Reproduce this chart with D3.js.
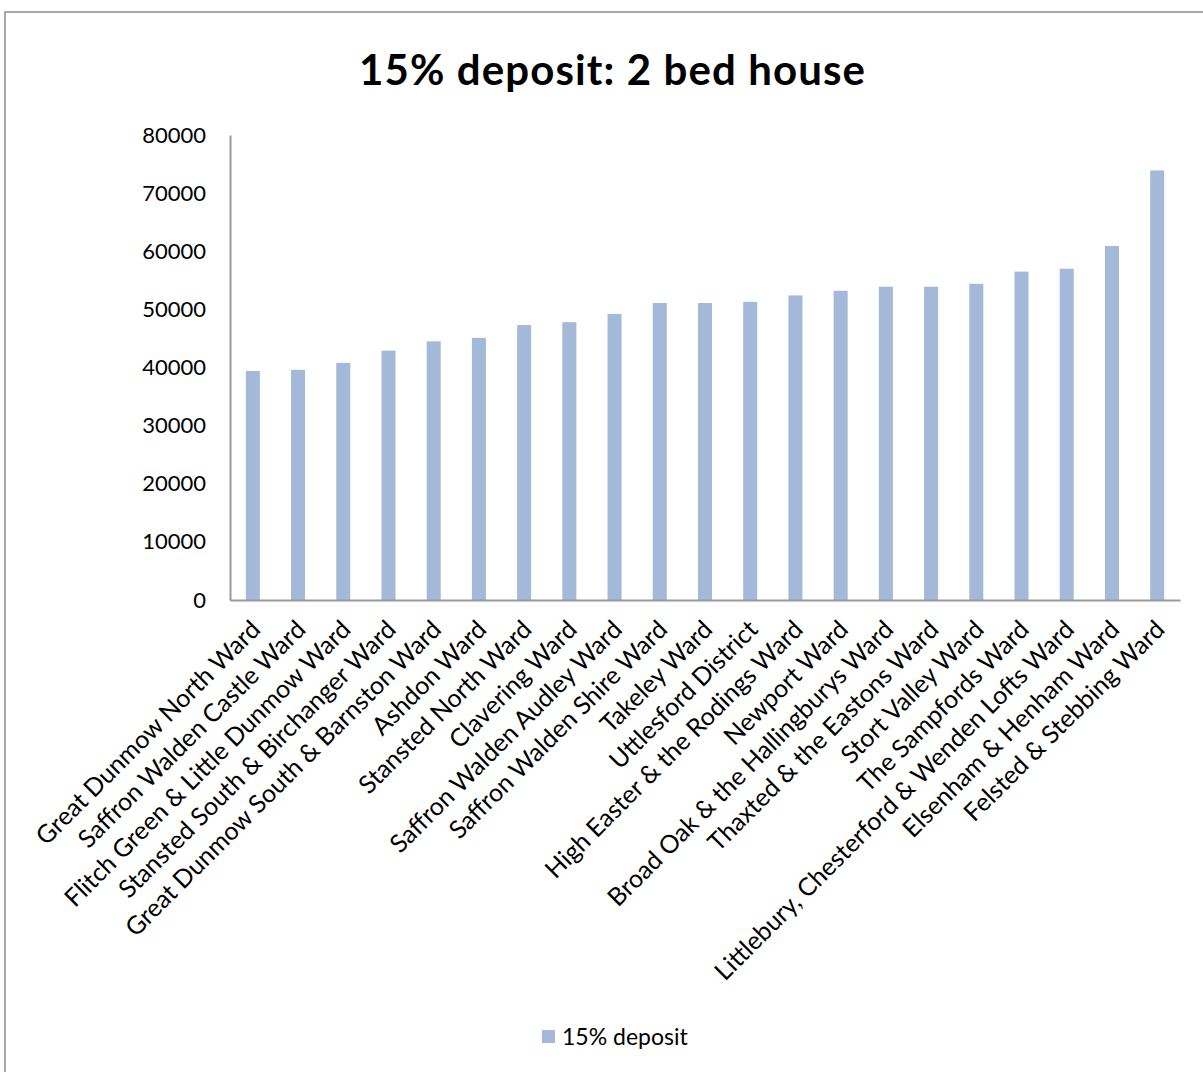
<!DOCTYPE html>
<html>
<head>
<meta charset="utf-8">
<script src="https://cdn.jsdelivr.net/npm/d3@7"></script>
<style>
  body { margin: 0; background: #fff; }
  svg { display: block; font-family: Lato, "Open Sans", sans-serif; }
</style>
</head>
<body>
<svg id="chart" width="1203" height="1072"></svg>
<script>
// data
const wards = [
  "Great Dunmow North Ward", "Saffron Walden Castle Ward", "Flitch Green & Little Dunmow Ward",
  "Stansted South & Birchanger Ward", "Great Dunmow South & Barnston Ward", "Ashdon Ward",
  "Stansted North Ward", "Clavering Ward", "Saffron Walden Audley Ward", "Saffron Walden Shire Ward",
  "Takeley Ward", "Uttlesford District", "High Easter & the Rodings Ward", "Newport Ward",
  "Broad Oak & the Hallingburys Ward", "Thaxted & the Eastons Ward", "Stort Valley Ward",
  "The Sampfords Ward", "Littlebury, Chesterford & Wenden Lofts Ward", "Elsenham & Henham Ward",
  "Felsted & Stebbing Ward"
];
const deposit15 = [
  39400, 39600, 40800, 42900, 44500, 45100, 47300, 47800, 49200, 51100,
  51100, 51300, 52400, 53200, 53900, 53900, 54400, 56500, 57000, 60900, 73900
];
const yTicks = [0, 10000, 20000, 30000, 40000, 50000, 60000, 70000, 80000];
const seriesName = "15% deposit";
const title = "15% deposit: 2 bed house";

const svg = d3.select("#chart");
const margin = { left: 230, top: 135, right: 23, bottom: 472 };
const W = 1203, H = 1072;
const barColor = "#a4b8d9";
const axisColor = "#9a9a9a";

// outer frame
svg.append("path")
  .attr("d", `M5,${H} V12 H${W}`)
  .attr("fill", "none")
  .attr("stroke", "#8c8c8c")
  .attr("stroke-width", 1.5);

svg.append("text")
  .attr("x", 612)
  .attr("y", 85)
  .attr("text-anchor", "middle")
  .style("font-size", "42px")
  .style("font-weight", "bold")
  .attr("textLength", 506)
  .text(title);

const x = d3.scaleBand()
  .domain(wards)
  .range([margin.left, W - margin.right])
  .paddingInner(0.69)
  .paddingOuter(0.35);

const y = d3.scaleLinear()
  .domain([0, 80000])
  .range([H - margin.bottom, margin.top]);

// bars
svg.append("g")
  .selectAll("rect")
  .data(deposit15)
  .join("rect")
    .attr("x", (d, i) => x(wards[i]))
    .attr("y", d => y(d))
    .attr("width", x.bandwidth())
    .attr("height", d => y(0) - y(d))
    .attr("fill", barColor);

// y axis
const yAxis = svg.append("g")
  .attr("transform", `translate(${margin.left},0)`)
  .call(d3.axisLeft(y).tickValues(yTicks).tickSize(0).tickPadding(24).tickFormat(d3.format("d")));
yAxis.select(".domain").attr("stroke", axisColor).attr("stroke-width", 2);
yAxis.selectAll("text").style("font-size", "22px").attr("fill", "#000").attr("font-family", "Lato, sans-serif");

// x axis
const xAxis = svg.append("g")
  .attr("transform", `translate(0,${y(0)})`)
  .call(d3.axisBottom(x).tickSize(0).tickPadding(0));
xAxis.select(".domain").attr("stroke", axisColor).attr("stroke-width", 2);
xAxis.selectAll("text")
  .style("font-size", "25px")
  .attr("fill", "#000")
  .attr("font-family", "Lato, sans-serif")
  .attr("text-anchor", "end")
  .attr("dy", null)
  .attr("transform", "translate(9,31) rotate(-45)");

// legend
const lg = svg.append("g").attr("transform", "translate(542,1030)");
lg.append("rect").attr("width", 13).attr("height", 13).attr("fill", barColor);
lg.append("text")
  .attr("x", 20)
  .attr("y", 15)
  .style("font-size", "23px")
  .text(seriesName);
</script>
</body>
</html>
